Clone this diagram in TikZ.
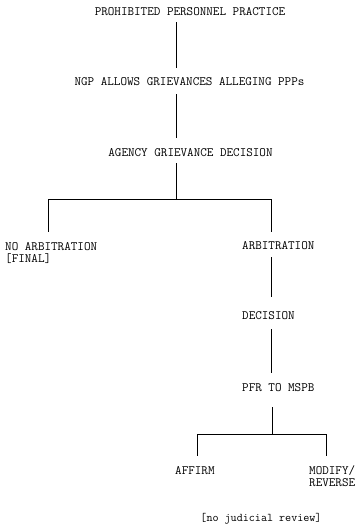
\documentclass[tikz,border=0pt]{standalone}
\usepackage{fontspec}
\usetikzlibrary{calc}

\tikzset{
	stage/.style={font=\ttfamily\fontsize{12.8}{12}\selectfont, inner sep=0pt, text height=7.8bp, text depth=0pt},
	multistage/.style={font=\ttfamily\fontsize{12.8}{12.5}\selectfont, inner sep=0pt, align=left},
	note/.style={font=\ttfamily\fontsize{11.8}{11}\selectfont, inner sep=0pt, text height=7.3bp, text depth=0pt},
	link/.style={semithick, shorten <=6bp, shorten >=10bp}
}

\begin{document}
\begin{tikzpicture}[x=1bp, y=-1bp]
	\useasboundingbox (0,0) rectangle (357,531);

	% Grievance path
	\begin{scope}
		\coordinate (spine) at (176,0);
		\node[stage] (ppp) at (190,12) {PROHIBITED PERSONNEL PRACTICE};
		\node[stage] (ngp) at (189.5,82) {NGP ALLOWS GRIEVANCES ALLEGING PPPs};
		\node[stage] (agency) at (190.5,153) {AGENCY GRIEVANCE DECISION};

		\draw[link] (ppp.south -| spine) -- (ngp.north -| spine);
		\draw[link, shorten <=8bp, shorten >=11bp] (ngp.south -| spine) -- (agency.north -| spine);

		\coordinate (split) at (176,199);
		\draw[semithick, shorten <=6bp] (agency.south -| spine) -- (split);
	\end{scope}

	% Arbitration or not
	\begin{scope}
		\coordinate (lefttop) at (48,199);
		\coordinate (righttop) at (271,199);
		\coordinate (leftfoot) at (48,232);
		\coordinate (rightfoot) at (271,232);
		\draw[semithick] (lefttop) -- (righttop);
		\draw[semithick] (lefttop) -- (leftfoot);
		\draw[semithick] (righttop) -- (rightfoot);

		\node[multistage, anchor=base west] (noarb) at (5,262.5) {NO ARBITRATION\\{[}FINAL{]}};
		\node[stage, anchor=west] (arb) at (242,246) {ARBITRATION};
		\node[stage, anchor=west] (decision) at (242,316) {DECISION};
		\node[stage, anchor=west] (pfr) at (242,388) {PFR TO MSPB};

		\draw[link, shorten <=7bp, shorten >=15bp] (arb.south -| righttop) -- (decision.north -| righttop);
		\draw[link, shorten <=9bp, shorten >=11bp] (decision.south -| righttop) -- (pfr.north -| righttop);
	\end{scope}

	% Board petition for review
	\begin{scope}
		\coordinate (board) at (272,434);
		\coordinate (affirmtop) at (197,434);
		\coordinate (modifytop) at (326,434);
		\coordinate (affirmfoot) at (197,456);
		\coordinate (modifyfoot) at (326,456);
		\draw[semithick, shorten <=15bp] (pfr.south -| board) -- (board);
		\draw[semithick] (affirmtop) -- (modifytop);
		\draw[semithick] (affirmtop) -- (affirmfoot);
		\draw[semithick] (modifytop) -- (modifyfoot);

		\node[stage, anchor=west] (affirm) at (175,471) {AFFIRM};
		\node[multistage, anchor=base west] (modify) at (309,486.5) {MODIFY/\\REVERSE};

		\node[note] (review) at (261,518) {[no judicial review]};
	\end{scope}
\end{tikzpicture}
\end{document}
